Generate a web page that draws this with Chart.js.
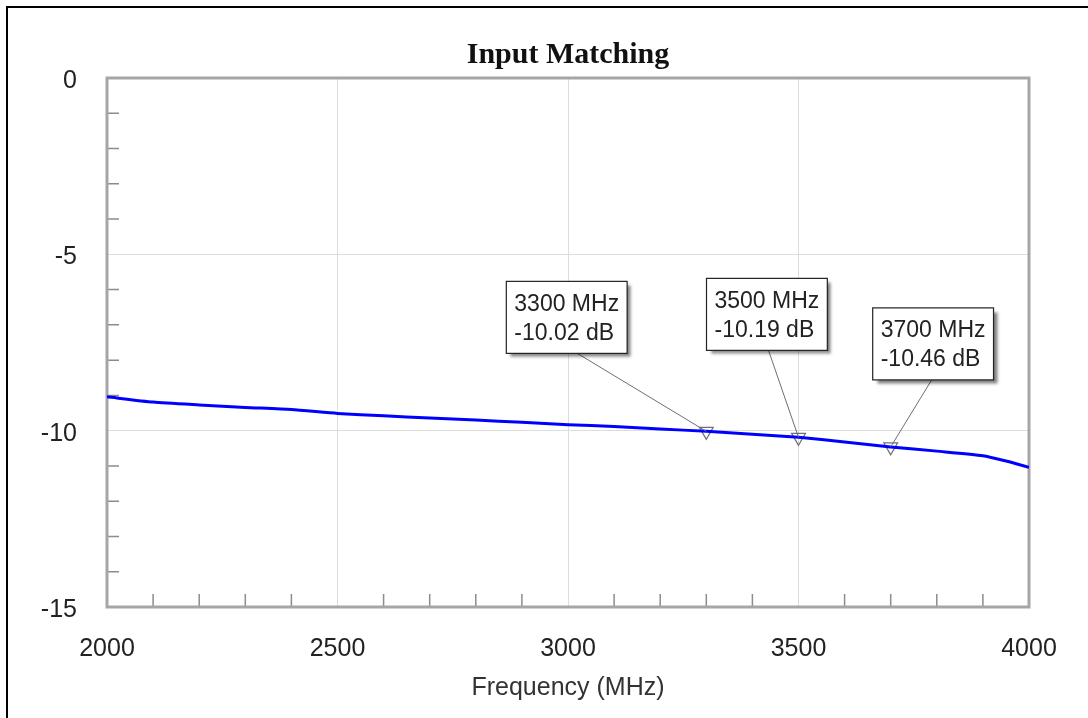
<!DOCTYPE html>
<html>
<head>
<meta charset="utf-8">
<script src="https://cdn.jsdelivr.net/npm/chart.js@4.4.0/dist/chart.umd.min.js"></script>
<style>
  body { margin: 0; background: #fff; }
  #frame {
    position: absolute;
    left: 6px;
    top: 6px;
    width: 1082px;
    height: 712px;
    border-top: 2px solid #000;
    border-left: 2px solid #000;
  }
  #wrap { position: absolute; left: 0; top: 0; width: 1088px; height: 718px; }
</style>
</head>
<body>
<div id="frame"></div>
<div id="wrap"><canvas id="myChart" width="1088" height="718"></canvas></div>
<script>

var freqs = [2000, 2100, 2200, 2300, 2400, 2500, 2600, 2700, 2800, 2900, 3000,
  3100, 3200, 3300, 3400, 3500, 3600, 3700, 3800, 3900, 3950, 4000];
var s11 = [-9.04, -9.19, -9.27, -9.34, -9.40, -9.51, -9.58, -9.64, -9.70, -9.76, -9.83,
  -9.88, -9.95, -10.02, -10.10, -10.19, -10.32, -10.46, -10.58, -10.71, -10.86, -11.04];

var markerFreqs = [3300, 3500, 3700];
var markerValues = [-10.02, -10.19, -10.46];

var xTicks = [2000, 2500, 3000, 3500, 4000];
var yTicks = [0, -5, -10, -15];

var chartTitle = "Input Matching";
var xTitle = "Frequency (MHz)";

// where each marker box sits, relative to its marker (px)
var boxOffsets = [
  { dx: -200, dy: -150, lineX: -129 },
  { dx: -92, dy: -159, lineX: -30 },
  { dx: -18, dy: -139, lineX: 41 }
];

function markerText(i) {
  return [markerFreqs[i] + " MHz", markerValues[i].toFixed(2) + " dB"];
}

var framePlugin = {
  id: "frame",
  beforeDatasetsDraw: function(chart) {
    var ctx = chart.ctx;
    var a = chart.chartArea;
    var x = chart.scales.x;
    var y = chart.scales.y;

    ctx.save();
    ctx.strokeStyle = "#8c8c8c";
    ctx.lineWidth = 1.5;
    ctx.beginPath();
    for (var f = 2100; f < 4000; f += 100) {
      if (f % 500 == 0) continue;
      var px = x.getPixelForValue(f);
      ctx.moveTo(px, a.bottom);
      ctx.lineTo(px, a.bottom - 13);
    }
    for (var v = -14; v < 0; v++) {
      if (v % 5 == 0) continue;
      var py = y.getPixelForValue(v);
      ctx.moveTo(a.left, py);
      ctx.lineTo(a.left + 12, py);
    }
    ctx.stroke();

    ctx.strokeStyle = "#a6a6a6";
    ctx.lineWidth = 3;
    ctx.strokeRect(a.left, a.top, a.right - a.left, a.bottom - a.top);

    ctx.fillStyle = "#111";
    ctx.font = "bold 30px 'Liberation Serif', 'Times New Roman', serif";
    ctx.textAlign = "center";
    ctx.textBaseline = "middle";
    ctx.fillText(chartTitle, (a.left + a.right) / 2, 55);
    ctx.restore();
  }
};

var labelPlugin = {
  id: "markerLabels",
  afterDatasetsDraw: function(chart) {
    var ctx = chart.ctx;
    var x = chart.scales.x;
    var y = chart.scales.y;

    ctx.save();
    ctx.font = "23px 'Liberation Sans', Arial, sans-serif";

    for (var i = 0; i < markerFreqs.length; i++) {
      var mx = x.getPixelForValue(markerFreqs[i]);
      var my = y.getPixelForValue(markerValues[i]);
      var lines = markerText(i);
      var w = Math.max(ctx.measureText(lines[0]).width, ctx.measureText(lines[1]).width) + 16;
      var h = 72;
      var bx = mx + boxOffsets[i].dx;
      var by = my + boxOffsets[i].dy;

      // leader line
      ctx.strokeStyle = "#6e6e6e";
      ctx.lineWidth = 1;
      ctx.beginPath();
      ctx.moveTo(mx + boxOffsets[i].lineX, by + h);
      ctx.lineTo(mx, my);
      ctx.stroke();

      // box with shadow
      ctx.save();
      ctx.shadowColor = "rgba(0, 0, 0, 0.5)";
      ctx.shadowOffsetX = 4;
      ctx.shadowOffsetY = 4;
      ctx.shadowBlur = 3;
      ctx.fillStyle = "#fff";
      ctx.fillRect(bx, by, w, h);
      ctx.restore();
      ctx.strokeStyle = "#222";
      ctx.lineWidth = 1.2;
      ctx.strokeRect(bx, by, w, h);

      ctx.fillStyle = "#222";
      ctx.textAlign = "left";
      ctx.textBaseline = "middle";
      ctx.fillText(lines[0], bx + 8, by + 23);
      ctx.fillText(lines[1], bx + 8, by + 52);
    }
    ctx.restore();
  }
};

function plainLabel(value) {
  return String(value);
}

function drawChart() {

  var lineData = [];
  for (var i = 0; i < freqs.length; i++) {
    lineData.push({ x: freqs[i], y: s11[i] });
  }

  var markerData = [];
  for (var j = 0; j < markerFreqs.length; j++) {
    markerData.push({ x: markerFreqs[j], y: markerValues[j] });
  }

  var ctx = document.getElementById("myChart");
  var myChart = new Chart(ctx, {
    type: "scatter",
    data: {
      datasets: [
        {
          data: lineData,
          showLine: true,
          borderColor: "#0000ff",
          borderWidth: 3,
          pointRadius: 0,
          tension: 0.2
        },
        {
          data: markerData,
          showLine: false,
          pointStyle: "triangle",
          rotation: 180,
          pointRadius: 8,
          pointBorderWidth: 1.2,
          pointBorderColor: "#707070",
          pointBackgroundColor: "rgba(0,0,0,0)"
        }
      ]
    },
    options: {
      responsive: false,
      animation: false,
      events: [],
      layout: { padding: { top: 78, right: 59, left: 0, bottom: 0 } },
      plugins: {
        legend: { display: false },
        tooltip: { enabled: false },
        title: { display: false }
      },
      scales: {
        x: {
          type: "linear",
          min: 2000,
          max: 4000,
          afterFit: function(scale) { scale.height = 111; },
          afterBuildTicks: function(scale) {
            scale.ticks = xTicks.map(function(v) { return { value: v }; });
          },
          grid: { color: "#dddddd", lineWidth: 1, drawTicks: false },
          border: { display: false },
          ticks: {
            padding: 27,
            color: "#222",
            font: { family: "'Liberation Sans', Arial, sans-serif", size: 25 },
            maxRotation: 0,
            callback: plainLabel
          },
          title: {
            display: true,
            text: xTitle,
            color: "#333",
            font: { family: "'Liberation Sans', Arial, sans-serif", size: 25 },
            padding: { top: 0, bottom: 15 }
          }
        },
        y: {
          type: "linear",
          min: -15,
          max: 0,
          afterFit: function(scale) { scale.width = 107; },
          afterBuildTicks: function(scale) {
            scale.ticks = yTicks.map(function(v) { return { value: v }; });
          },
          grid: { color: "#dddddd", lineWidth: 1, drawTicks: false },
          border: { display: false },
          ticks: {
            padding: 30,
            labelOffset: 3,
            color: "#222",
            font: { family: "'Liberation Sans', Arial, sans-serif", size: 25 },
            callback: plainLabel
          }
        }
      }
    },
    plugins: [framePlugin, labelPlugin]
  });
}

drawChart();

</script>
</body>
</html>
